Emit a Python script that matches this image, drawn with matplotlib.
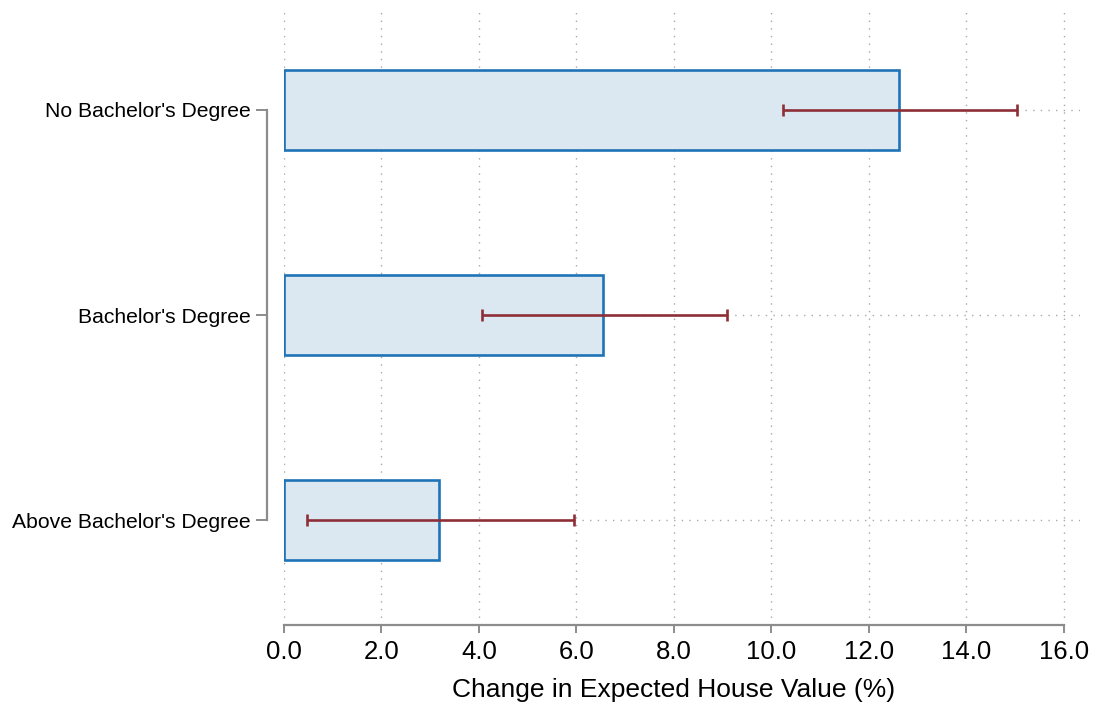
import matplotlib.pyplot as plt

# Estimates and 95% intervals by education group
groups = ["No Bachelor's Degree", "Bachelor's Degree", "Above Bachelor's Degree"]
estimate = [12.62, 6.55, 3.19]
ci_low = [10.24, 4.06, 0.47]
ci_high = [15.04, 9.09, 5.95]
xticks = [0, 2, 4, 6, 8, 10, 12, 14, 16]

plt.rcParams['font.family'] = ['Liberation Sans', 'DejaVu Sans']

fig = plt.figure(figsize=(10.99, 7.09), dpi=100)
ax = fig.add_axes([0.2584, 0.1185, 0.7243, 0.8715])

ypos = list(range(len(groups)))
ax.barh(ypos, estimate, height=0.39, color='#dbe8f2', edgecolor='#1f73b7',
        linewidth=1.9, zorder=2)

xerr = [[e - lo for e, lo in zip(estimate, ci_low)],
        [hi - e for e, hi in zip(estimate, ci_high)]]
ax.errorbar(estimate, ypos, xerr=xerr, fmt='none', ecolor='#8e2f38',
            elinewidth=1.9, capsize=4, capthick=1.9, zorder=3)

ax.set_xlim(0, 16.33)
ax.set_ylim(2.51, -0.5)

# dotted grid behind the bars
ax.grid(True, linestyle=(0, (1, 4.5)), color='#a8a8a8', linewidth=1.0, zorder=0)
ax.set_axisbelow(True)

ax.set_xticks(xticks)
ax.set_xticklabels([f"{v:.1f}" for v in xticks])
ax.set_yticks(ypos)
ax.set_yticklabels(groups)

for side in ['top', 'right']:
    ax.spines[side].set_visible(False)
ax.spines['left'].set_position(('outward', 12))
ax.spines['left'].set_bounds(0, 2)
ax.spines['bottom'].set_bounds(0, 16)
for side in ['left', 'bottom']:
    ax.spines[side].set_color('#8c8c8c')
    ax.spines[side].set_linewidth(1.6)

ax.tick_params(axis='x', length=6, width=1.4, color='#8c8c8c', pad=5,
               labelsize=18.5)
ax.tick_params(axis='y', length=8, width=1.4, color='#8c8c8c', pad=4,
               labelsize=15.2)

ax.set_xlabel("Change in Expected House Value (%)", fontsize=19)
ax.xaxis.set_label_coords(16 / 16.33 / 2, -0.085)

fig.savefig("out.png", dpi=100)
